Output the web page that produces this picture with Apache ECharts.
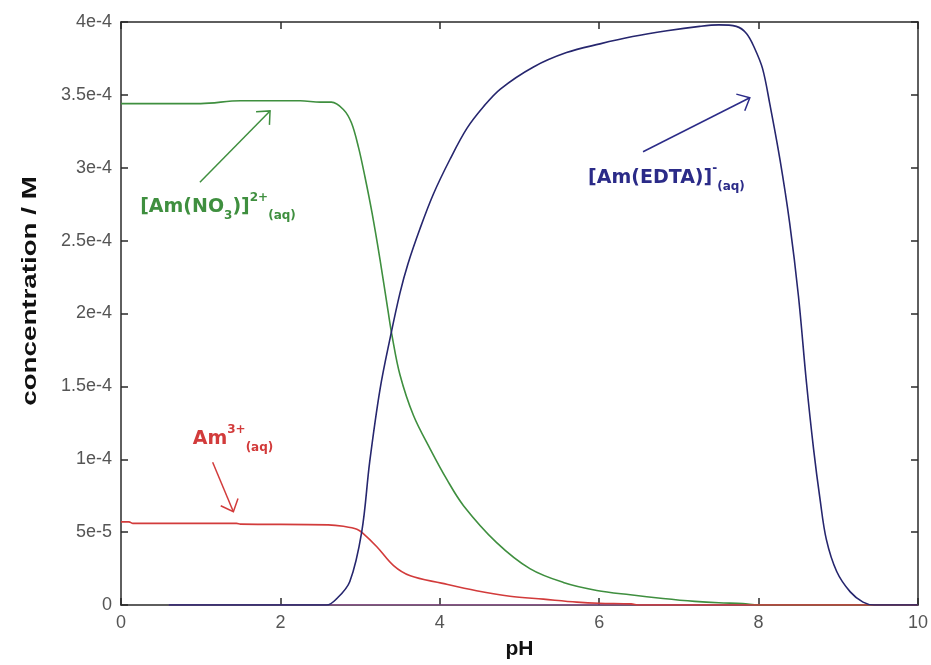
<!DOCTYPE html>
<html>
<head>
<meta charset="utf-8">
<script src="https://cdn.jsdelivr.net/npm/echarts@6/dist/echarts.min.js"></script>
<style>
html,body{margin:0;padding:0;background:#fff;}
#chart{width:931px;height:665px;}
</style>
</head>
<body>
<div id="chart"></div>
<script>
// ---- data (pH vs concentration in M) ----
const xTicks = [0, 2, 4, 6, 8, 10];
const yTickLabels = ['0', '5e-5', '1e-4', '1.5e-4', '2e-4', '2.5e-4', '3e-4', '3.5e-4', '4e-4'];

const pHNitrato = [0, 0.5, 1.0, 1.5, 2.25, 2.5, 2.64, 2.79, 2.89, 2.98, 3.06, 3.15, 3.25, 3.35, 3.4, 3.5, 3.67, 3.88, 4.09, 4.3, 4.71, 5.13, 5.55, 5.97, 6.39, 6.8, 7.2, 7.5, 7.8, 8.0, 10];
const concNitrato = [3.44e-4, 3.44e-4, 3.44e-4, 3.46e-4, 3.46e-4, 3.45e-4, 3.45e-4, 3.40e-4, 3.31e-4, 3.14e-4, 2.94e-4, 2.69e-4, 2.37e-4, 2.02e-4, 1.85e-4, 1.58e-4, 1.30e-4, 1.07e-4, 0.86e-4, 0.68e-4, 0.43e-4, 0.25e-4, 0.155e-4, 0.10e-4, 0.07e-4, 0.045e-4, 0.025e-4, 0.015e-4, 0.01e-4, 0, 0];

const pHEdta = [0.6, 2.0, 2.58, 2.7, 2.87, 3.02, 3.12, 3.25, 3.38, 3.5, 3.6, 3.75, 3.92, 4.13, 4.34, 4.55, 4.76, 5.17, 5.59, 6.01, 6.42, 6.85, 7.26, 7.5, 7.72, 7.85, 7.95, 8.05, 8.14, 8.27, 8.39, 8.5, 8.6, 8.69, 8.77, 8.85, 8.98, 9.15, 9.31, 9.45, 10];
const concEdta = [0, 0, 0, 0.04e-4, 0.16e-4, 0.5e-4, 0.98e-4, 1.48e-4, 1.84e-4, 2.14e-4, 2.34e-4, 2.58e-4, 2.82e-4, 3.06e-4, 3.27e-4, 3.42e-4, 3.54e-4, 3.69e-4, 3.79e-4, 3.85e-4, 3.90e-4, 3.94e-4, 3.97e-4, 3.98e-4, 3.97e-4, 3.92e-4, 3.82e-4, 3.68e-4, 3.44e-4, 3.05e-4, 2.62e-4, 2.12e-4, 1.53e-4, 1.07e-4, 0.73e-4, 0.45e-4, 0.23e-4, 0.09e-4, 0.02e-4, 0, 0];

const pHAm = [0, 0.1, 0.15, 1.45, 1.5, 2.6, 2.79, 2.96, 3.04, 3.21, 3.42, 3.63, 4.02, 4.46, 4.88, 5.3, 5.72, 6.0, 6.4, 6.5, 10];
const concAm = [0.57e-4, 0.57e-4, 0.56e-4, 0.56e-4, 0.555e-4, 0.55e-4, 0.54e-4, 0.52e-4, 0.49e-4, 0.40e-4, 0.27e-4, 0.20e-4, 0.15e-4, 0.098e-4, 0.06e-4, 0.04e-4, 0.02e-4, 0.012e-4, 0.008e-4, 0, 0];

const pHOther = [0.6, 10];
const concOther = [0, 0];

// annotation anchors (data coords): [textPH, textConc, arrowFromPH, arrowFromConc, arrowToPH, arrowToConc]
const annNitrato = [0.24, 2.73e-4, 0.99, 2.90e-4, 1.87, 3.39e-4];
const annEdta = [5.86, 2.93e-4, 6.55, 3.11e-4, 7.89, 3.48e-4];
const annAm = [0.9, 1.14e-4, 1.15, 0.98e-4, 1.41, 0.64e-4];

const COL_G = '#3f8f3f', COL_B = '#26266e', COL_R = '#d23b3b';

function zip(a, b) { return a.map((v, i) => [v, b[i]]); }

const chart = echarts.init(document.getElementById('chart'));
const axisLine = { show: true, onZero: false, lineStyle: { color: '#2a2a2a', width: 1.5 } };
const tickIn = { show: true, inside: true, length: 7, lineStyle: { color: '#2a2a2a', width: 1.5 } };

function lineSeries(name, xs, ys, color, w) {
  return {
    name: name, type: 'line', data: zip(xs, ys), showSymbol: false,
    smooth: 0.35,
    lineStyle: { color: color, width: w || 1.6 }, itemStyle: { color: color },
    xAxisIndex: 0, yAxisIndex: 0, z: 3, animation: false
  };
}

chart.setOption({
  animation: false,
  backgroundColor: '#fff',
  grid: { left: 121, right: 13, top: 22, bottom: 59, containLabel: false },
  xAxis: [
    {
      type: 'value', min: 0, max: 10, interval: 2, position: 'bottom',
      name: 'pH', nameLocation: 'middle', nameGap: 34,
      nameTextStyle: { fontFamily: 'Liberation Sans, Arial', fontSize: 21, fontWeight: 'bold', color: '#111' },
      axisLine: axisLine, axisTick: tickIn, splitLine: { show: false },
      axisLabel: { fontFamily: 'Liberation Sans, Arial', fontSize: 18, color: '#555', margin: 9,
        formatter: v => xTicks.indexOf(v) >= 0 ? String(v) : '' }
    },
    {
      type: 'value', min: 0, max: 10, interval: 2, position: 'top',
      axisLine: axisLine, axisTick: tickIn, splitLine: { show: false }, axisLabel: { show: false }
    }
  ],
  yAxis: [
    {
      type: 'value', min: 0, max: 4e-4, interval: 5e-5, position: 'left',
      axisLine: axisLine, axisTick: tickIn, splitLine: { show: false },
      axisLabel: { fontFamily: 'Liberation Sans, Arial', fontSize: 18, color: '#555', margin: 9,
        formatter: v => yTickLabels[Math.round(v / 5e-5)] }
    },
    {
      type: 'value', min: 0, max: 4e-4, interval: 5e-5, position: 'right',
      axisLine: axisLine, axisTick: tickIn, splitLine: { show: false }, axisLabel: { show: false }
    }
  ],
  series: [
    lineSeries('other', pHOther, concOther, '#b04cb0', 1.2),
    lineSeries('[Am(NO3)]2+', pHNitrato, concNitrato, COL_G),
    lineSeries('Am3+', pHAm, concAm, COL_R),
    lineSeries('[Am(EDTA)]-', pHEdta, concEdta, COL_B)
  ]
});

function px(x, y) { return chart.convertToPixel({ xAxisIndex: 0, yAxisIndex: 0 }, [x, y]); }

function arrow(from, to, color, len, ang) {
  const dx = from[0] - to[0], dy = from[1] - to[1];
  const L = Math.hypot(dx, dy), ux = dx / L, uy = dy / L;
  const a = ang * Math.PI / 180;
  const r1 = [to[0] + len * (ux * Math.cos(a) - uy * Math.sin(a)), to[1] + len * (ux * Math.sin(a) + uy * Math.cos(a))];
  const r2 = [to[0] + len * (ux * Math.cos(-a) - uy * Math.sin(-a)), to[1] + len * (ux * Math.sin(-a) + uy * Math.cos(-a))];
  return [
    { type: 'line', shape: { x1: from[0], y1: from[1], x2: to[0], y2: to[1] }, style: { stroke: color, lineWidth: 1.5 }, z: 10 },
    { type: 'polyline', shape: { points: [r1, to, r2] }, style: { stroke: color, lineWidth: 1.5, fill: null }, z: 10 }
  ];
}

const FF = '"DejaVu Sans", Verdana, sans-serif';
function richFor(color) {
  const base = { fill: color, fontFamily: FF, lineHeight: 30, fontWeight: 'bold' };
  return {
    m: Object.assign({}, base, { fontSize: 19, verticalAlign: 'middle' }),
    s: Object.assign({}, base, { fontSize: 12, verticalAlign: 'bottom' }),
    p: Object.assign({}, base, { fontSize: 12, verticalAlign: 'top' })
  };
}

const g = [];
function addAnn(ann, text, color, ang) {
  const p = px(ann[0], ann[1]);
  g.push({ type: 'text', x: p[0], y: p[1], z: 10,
    style: { text: text, fill: color, verticalAlign: 'middle', align: 'left', rich: richFor(color),
      font: 'bold 19px ' + FF } });
  arrow(px(ann[2], ann[3]), px(ann[4], ann[5]), color, 14, ang).forEach(e => g.push(e));
}
addAnn(annNitrato, '{m|[Am(NO}{s|3}{m|)]}{p|2+}{s|(aq)}', COL_G, 42);
addAnn(annEdta, '{m|[Am(EDTA)]}{p|-}{s|(aq)}', '#2b2b88', 42);
addAnn(annAm, '{m|Am}{p|3+}{s|(aq)}', COL_R, 42);

// y-axis title
g.push({ type: 'text', x: 30, y: 291, rotation: Math.PI / 2, scaleX: 1.32, z: 10,
  style: { text: 'concentration / M', fill: '#111', align: 'center', verticalAlign: 'middle',
    font: 'bold 21px "Liberation Sans", Arial' } });

chart.setOption({ graphic: g });
</script>
</body>
</html>
